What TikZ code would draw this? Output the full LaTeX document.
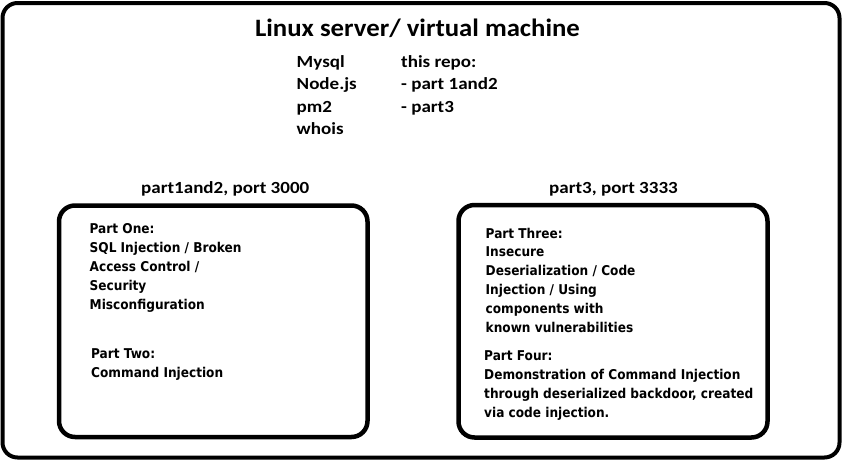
\documentclass[tikz,border=0pt]{standalone}
\usepackage{fontspec}
\newfontfamily\calibt{Carlito}[FakeStretch=1.07]
\newfontfamily\calib{Carlito}[FakeStretch=1.12]
\newfontfamily\tah{DejaVu Sans Condensed}
\begin{document}
\begin{tikzpicture}[x=1pt,y=-1pt,
  frame/.style={draw=black, line width=4pt, rounded corners=15pt, inner sep=0pt, fill=white},
  part/.style={draw=black, line width=4.5pt, rounded corners=16pt, inner sep=0pt},
  titletxt/.style={font=\calibt\bfseries\fontsize{25}{28}\selectfont, inner sep=0pt, anchor=base},
  toptxt/.style={font=\calib\bfseries\fontsize{17}{20}\selectfont, inner sep=0pt, anchor=base west},
  boxtxt/.style={font=\tah\bfseries\fontsize{13.5}{16}\selectfont, inner sep=0pt, anchor=base west}]
\useasboundingbox (0,0) rectangle (843,461);
\fill[white] (0,0) rectangle (843,461);
\node[frame, minimum width=837pt, minimum height=454.5pt] (outer) at (421,230.25) {};
\node[part, minimum width=308.5pt, minimum height=231.5pt] (left) at (213.25,321.25) {};
\node[part, minimum width=309pt, minimum height=232.5pt] (right) at (613,321.25) {};
\node[titletxt] (title) at (417.5,36.7) {Linux server/ virtual machine};
\foreach \t [count=\i] in {Mysql,Node.js,pm2,whois}
  \node[toptxt] (sw\i) at (296.5,{67.3+22.4*(\i-1)}) {\t};
\foreach \t [count=\i] in {this repo:,- part 1and2,- part3}
  \node[toptxt] (repo\i) at (401,{67.3+22.4*(\i-1)}) {\t};
\node[toptxt] (lport) at (141,193) {part1and2, port 3000};
\node[toptxt] (rport) at (549,193) {part3, port 3333};
\foreach \t [count=\i] in {Part One:,SQL Injection / Broken,Access Control /,Security,Misconfiguration}
  \node[boxtxt] (one\i) at (89.5,{233.3+19*(\i-1)}) {\t};
\foreach \t [count=\i] in {Part Two:,Command Injection}
  \node[boxtxt] (two\i) at (91,{358.3+19*(\i-1)}) {\t};
\foreach \t [count=\i] in {Part Three:,Insecure,Deserialization / Code,Injection / Using,components with,known vulnerabilities}
  \node[boxtxt] (three\i) at (485.5,{238+18.9*(\i-1)}) {\t};
\foreach \t [count=\i] in {Part Four:,Demonstration of Command Injection,{through deserialized backdoor, created},via code injection.}
  \node[boxtxt] (four\i) at (484,{360+19*(\i-1)}) {\t};
\end{tikzpicture}
\end{document}
